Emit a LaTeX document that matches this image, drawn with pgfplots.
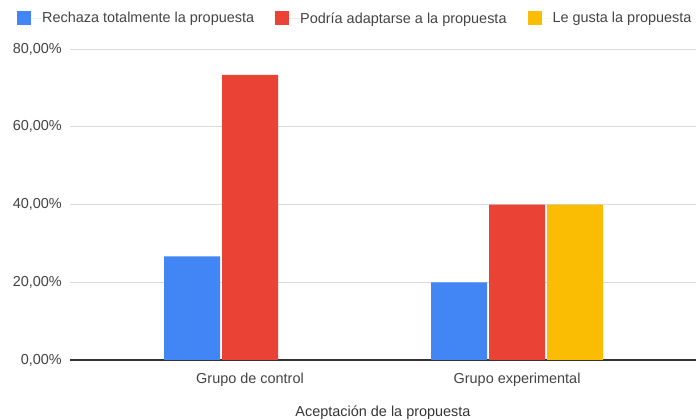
\documentclass[border=0pt]{standalone}
\usepackage{pgfplots}
\pgfplotsset{compat=1.18}
\usepackage{fontspec}
\setmainfont{Liberation Sans}
\definecolor{gblue}{HTML}{4285F4}
\definecolor{gred}{HTML}{EA4335}
\definecolor{gyellow}{HTML}{FBBC04}
\definecolor{ggrid}{HTML}{D9D9D9}
\definecolor{gtext}{HTML}{444444}
\definecolor{gaxis}{HTML}{333333}
\begin{document}
\fontsize{14.5}{17}\selectfont
\begin{tikzpicture}
\path[use as bounding box] (0,0) rectangle (696bp,420bp);
\begin{axis}[
  at={(70bp,60bp)}, anchor=south west,
  scale only axis, width=626bp, height=311bp,
  xmin=-0.674, xmax=1.67, ymin=0, ymax=80,
  ybar=2bp, bar width=56bp,
  xtick={0,1}, xticklabels={Grupo de control, Grupo experimental},
  ytick={0,20,40,60,80},
  ymajorgrids, grid style={ggrid, line width=1bp},
  axis x line*=bottom, axis y line*=left,
  x axis line style={gaxis, line width=1.3bp, -},
  y axis line style={draw=none},
  tick style={draw=none},
  /pgf/number format/assume math mode=true,
  yticklabel={\pgfmathprintnumber[fixed,fixed zerofill,precision=2,use comma]{\tick}\%},
  ticklabel style={font=\fontsize{14.5}{17}\selectfont, text=gtext},
  yticklabel style={inner sep=0pt, anchor=east, xshift=-8bp},
  xticklabel style={inner sep=0pt, anchor=north, yshift=-9bp},
  xlabel={Aceptación de la propuesta},
  xlabel style={at={(axis description cs:0.5,0)}, anchor=north, inner sep=0pt, yshift=-46bp, font=\fontsize{14.5}{17}\selectfont, text=gtext!80!black},
  legend columns=3,
  legend style={draw=none, fill=none, at={(-0.0847,1.0997)}, anchor=west, inner sep=0pt,
    /tikz/every even column/.append style={column sep=21bp},
    nodes={inner sep=0pt, text=gtext, font=\fontsize{14.5}{17}\selectfont}},
  legend cell align=left,
  legend image code/.code={\fill[#1] (0bp,-6bp) rectangle (14bp,8bp); \path (0bp,0bp) -- (25bp,0bp);},
]
\addplot[fill=gblue, draw=none] coordinates {(0,26.67) (1,20)};
\addlegendentry{Rechaza totalmente la propuesta}
\addplot[fill=gred, draw=none] coordinates {(0,73.33) (1,40)};
\addlegendentry{Podría adaptarse a la propuesta}
\addplot[fill=gyellow, draw=none] coordinates {(0,0) (1,40)};
\addlegendentry{Le gusta la propuesta}
\end{axis}
\end{tikzpicture}
\end{document}
